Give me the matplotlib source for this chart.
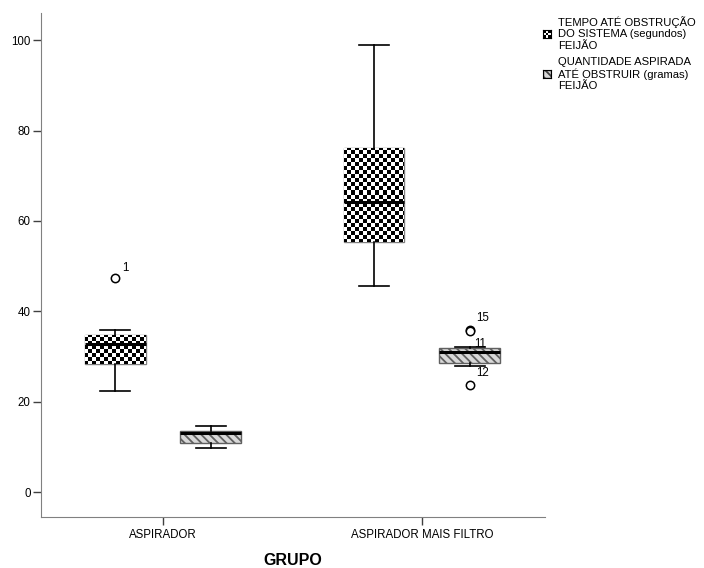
import numpy as np
import matplotlib
matplotlib.use('Agg')
import matplotlib.pyplot as plt
from matplotlib.patches import Rectangle

plt.rcParams['font.family'] = ['Liberation Sans', 'DejaVu Sans']
plt.rcParams['hatch.linewidth'] = 1.3

grupos = ['ASPIRADOR', 'ASPIRADOR MAIS FILTRO']
series = ['TEMPO ATÉ OBSTRUÇÃO\nDO SISTEMA (segundos)\nFEIJÃO',
          'QUANTIDADE ASPIRADA\nATÉ OBSTRUIR (gramas)\nFEIJÃO']
# whislo, q1, med, q3, whishi
tempo = [(22.3, 28.3, 32.7, 34.8, 35.8), (45.7, 55.3, 64.1, 76.2, 98.9)]
quantidade = [(9.8, 10.8, 13.0, 13.5, 14.6), (27.8, 28.6, 31.1, 31.9, 32.0)]
tempo_out = [[47.3], []]
tempo_out_lab = [['1'], []]
quant_out = [[], [35.8, 35.6, 23.6]]
quant_out_lab = [[], ['15', '11', '12']]

fig = plt.figure(figsize=(7.04, 5.68), dpi=100)
ax = fig.add_axes([41/704, 1-517/568, (545-41)/704, (517-13)/568])

off = 0.185
bw = 0.235


def stats(vals, outs):
    lo, q1, med, q3, hi = vals
    return dict(whislo=lo, q1=q1, med=med, q3=q3, whishi=hi, fliers=np.array(outs))


flierprops = dict(marker='o', markerfacecolor='white', markeredgecolor='black',
                  markersize=6, markeredgewidth=1.1)
common = dict(widths=bw, patch_artist=True, capwidths=bw/2,
              whiskerprops=dict(color='black', lw=1.2),
              capprops=dict(color='black', lw=1.2),
              medianprops=dict(color='black', lw=2.2),
              flierprops=flierprops)

x = np.arange(len(grupos))
b1 = ax.bxp([stats(v, o) for v, o in zip(tempo, tempo_out)], positions=x - off,
            boxprops=dict(facecolor='white', edgecolor='#808080', lw=1), **common)
b2 = ax.bxp([stats(v, o) for v, o in zip(quantidade, quant_out)], positions=x + off,
            boxprops=dict(facecolor='#d8d8d8', edgecolor='#606060', lw=1, hatch=r'\\\\'),
            **common)

ax.set_xlim(-0.471, 1.475)
ax.set_ylim(-5.5, 106)

# checker fill for tempo boxes, aligned to the pixel grid
inv = ax.transData.inverted()
for pos, v, box in zip(x - off, tempo, b1['boxes']):
    (px0, py0), (px1, py1) = ax.transData.transform([(pos - bw/2, v[1]), (pos + bw/2, v[3])])
    px0, py0, px1, py1 = int(np.floor(px0)), int(np.floor(py0)), int(np.ceil(px1)), int(np.ceil(py1))
    yy, xx = np.indices((py1 - py0, px1 - px0))
    chk = ((xx // 4) + (yy // 4)) % 2
    (dx0, dy0), (dx1, dy1) = inv.transform([(px0, py0), (px1, py1)])
    im = ax.imshow(chk, extent=(dx0, dx1, dy0, dy1), origin='lower',
                   cmap='gray', interpolation='nearest', aspect='auto', zorder=2.1)
    im.set_clip_path(box)
for k in ('whiskers', 'caps', 'medians'):
    for a in b1[k] + b2[k]:
        a.set_zorder(3)

# outlier labels
for pos, outs, labs in zip(x - off, tempo_out, tempo_out_lab):
    for v, l in zip(outs, labs):
        ax.annotate(l, (pos, v), xytext=(7, 7), textcoords='offset pixels', fontsize=8.3)
for pos, outs, labs in zip(x + off, quant_out, quant_out_lab):
    for j, (v, l) in enumerate(zip(outs, labs)):
        dx, dy = (4, -16) if j == 1 else (6, 9)
        ax.annotate(l, (pos, v), xytext=(dx, dy), textcoords='offset pixels', fontsize=8.3)

ax.set_xlim(-0.471, 1.475)
ax.set_ylim(-5.5, 106)
ax.set_xticks(x)
ax.set_xticklabels(grupos, fontsize=8.3)
ax.set_yticks([0, 20, 40, 60, 80, 100])
ax.tick_params(axis='both', length=6, width=1, color='#404040', labelsize=8.3, pad=1.5)
ax.tick_params(axis='x', pad=3)
for s in ('top', 'right'):
    ax.spines[s].set_visible(False)
for s in ('left', 'bottom'):
    ax.spines[s].set_color('#808080')
ax.set_xlabel('GRUPO', fontsize=11.5, fontweight='bold', labelpad=8)

# legend
ia = fig.add_axes([543/704, 1-38/568, 8/704, 8/568])
ia.imshow(np.indices((3, 3)).sum(axis=0) % 2, cmap='gray', interpolation='nearest', aspect='auto')
ia.set_xticks([]); ia.set_yticks([])
ib = fig.add_axes([543/704, 1-78/568, 8/704, 8/568])
ib.add_patch(Rectangle((0, 0), 1, 1, facecolor='#d8d8d8', edgecolor='#404040', hatch=r'\\\\'))
ib.set_xticks([]); ib.set_yticks([])
ib.set_xlim(0, 1); ib.set_ylim(0, 1)
for lbl, ytop in zip(series, (22, 62)):
    for n, line in enumerate(lbl.split('\n')):
        fig.text(558/704, 1 - (ytop + 12 * n) / 568, line, fontsize=8.1, va='center', ha='left')

fig.savefig('out.png', dpi=100)
